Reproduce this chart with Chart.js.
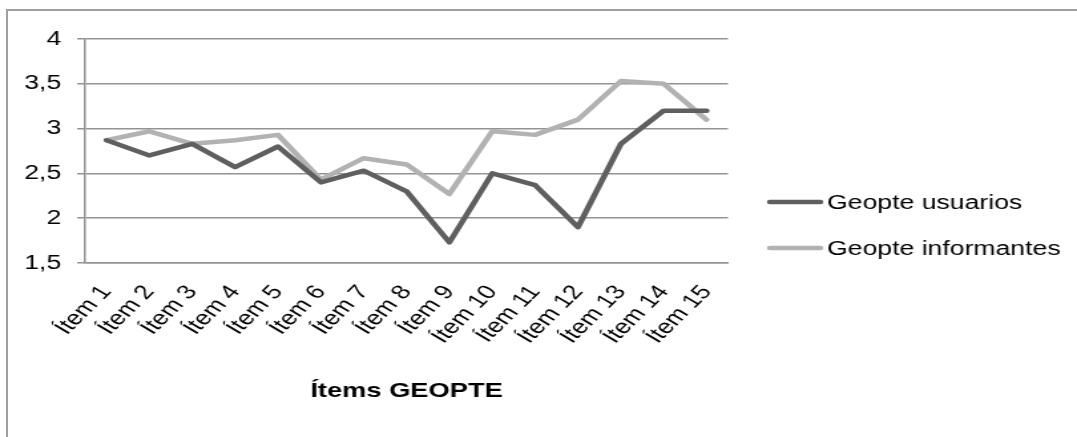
<!DOCTYPE html>
<html>
<head>
<meta charset="utf-8">
<script src="https://cdn.jsdelivr.net/npm/chart.js@4/dist/chart.umd.min.js"></script>
<style>
  html, body { margin: 0; padding: 0; background: #fff; }
  body { width: 1077px; height: 437px; position: relative; overflow: hidden; }
  #frame { position: absolute; left: 6px; top: 9px; width: 1100px; height: 500px;
           border-left: 2px solid #a0a0a0; border-top: 2px solid #a0a0a0; box-sizing: border-box; }
  #c { position: absolute; left: 0; top: 0; width: 1077px; height: 437px; }
</style>
</head>
<body>
<div id="frame"></div>
<canvas id="c" width="810" height="437" style="width:1077px;height:437px"></canvas>
<script>
const categories = ['Ítem 1','Ítem 2','Ítem 3','Ítem 4','Ítem 5','Ítem 6','Ítem 7','Ítem 8','Ítem 9','Ítem 10','Ítem 11','Ítem 12','Ítem 13','Ítem 14','Ítem 15'];
const usuarios =    [2.87, 2.70, 2.83, 2.57, 2.80, 2.40, 2.53, 2.30, 1.73, 2.50, 2.37, 1.90, 2.83, 3.20, 3.20];
const informantes = [2.87, 2.97, 2.83, 2.87, 2.93, 2.43, 2.67, 2.60, 2.27, 2.97, 2.93, 3.10, 3.53, 3.50, 3.10];
const seriesNames = ['Geopte usuarios', 'Geopte informantes'];
const axisTitle = 'Ítems GEOPTE';
const yMin = 1.5, yMax = 4, yStep = 0.5;

const FONT = 'Arial, "Liberation Sans", sans-serif';

const legendPlugin = {
  id: 'customLegend',
  afterDraw(chart) {
    const ctx = chart.ctx;
    const ys = [202, 248];
    ctx.save();
    chart.data.datasets.forEach((ds, i) => {
      const y = ys[i];
      ctx.strokeStyle = ds.borderColor;
      ctx.lineWidth = ds.borderWidth;
      ctx.lineCap = 'round';
      ctx.beginPath();
      ctx.moveTo(579, y);
      ctx.lineTo(617, y);
      ctx.stroke();
      ctx.fillStyle = '#000';
      ctx.font = '20px ' + FONT;
      ctx.textBaseline = 'middle';
      ctx.textAlign = 'left';
      ctx.fillText(ds.label, 622, y + 1);
    });
    ctx.restore();
  }
};

new Chart(document.getElementById('c'), {
  type: 'line',
  data: {
    labels: categories,
    datasets: [
      { label: seriesNames[0], data: usuarios, borderColor: '#5f5f5f', backgroundColor: '#5f5f5f',
        borderWidth: 4.5, pointRadius: 0, tension: 0, borderJoinStyle: 'round', borderCapStyle: 'round' },
      { label: seriesNames[1], data: informantes, borderColor: '#b2b2b2', backgroundColor: '#b2b2b2',
        borderWidth: 4.5, pointRadius: 0, tension: 0, borderJoinStyle: 'round', borderCapStyle: 'round' }
    ]
  },
  options: {
    responsive: false,
    animation: false,
    devicePixelRatio: 1,
    layout: { padding: { left: 0, right: 262.5, top: 39, bottom: 0 } },
    plugins: { legend: { display: false }, tooltip: { enabled: false } },
    scales: {
      x: {
        offset: true,
        grid: { display: false, drawTicks: false },
        border: { display: true, color: '#939393', width: 1.5 },
        ticks: { color: '#000', font: { family: FONT, size: 20 }, minRotation: 52, maxRotation: 52, padding: 18, autoSkip: false },
        title: { display: true, text: axisTitle, color: '#000', font: { family: FONT, size: 20.5, weight: 'bold' }, padding: { top: 0, bottom: 33 } },
        afterFit(scale) { scale.height = 174; }
      },
      y: {
        min: yMin, max: yMax,
        grid: { color: '#939393', lineWidth: 1.5, drawTicks: true, tickLength: 6 },
        border: { display: true, color: '#939393', width: 1.5 },
        ticks: { stepSize: yStep, color: '#000', font: { family: FONT, size: 20 }, padding: 12,
                 callback: v => String(v).replace('.', ',') },
        afterFit(scale) { scale.width = 64; }
      }
    }
  },
  plugins: [legendPlugin]
});
</script>
</body>
</html>
